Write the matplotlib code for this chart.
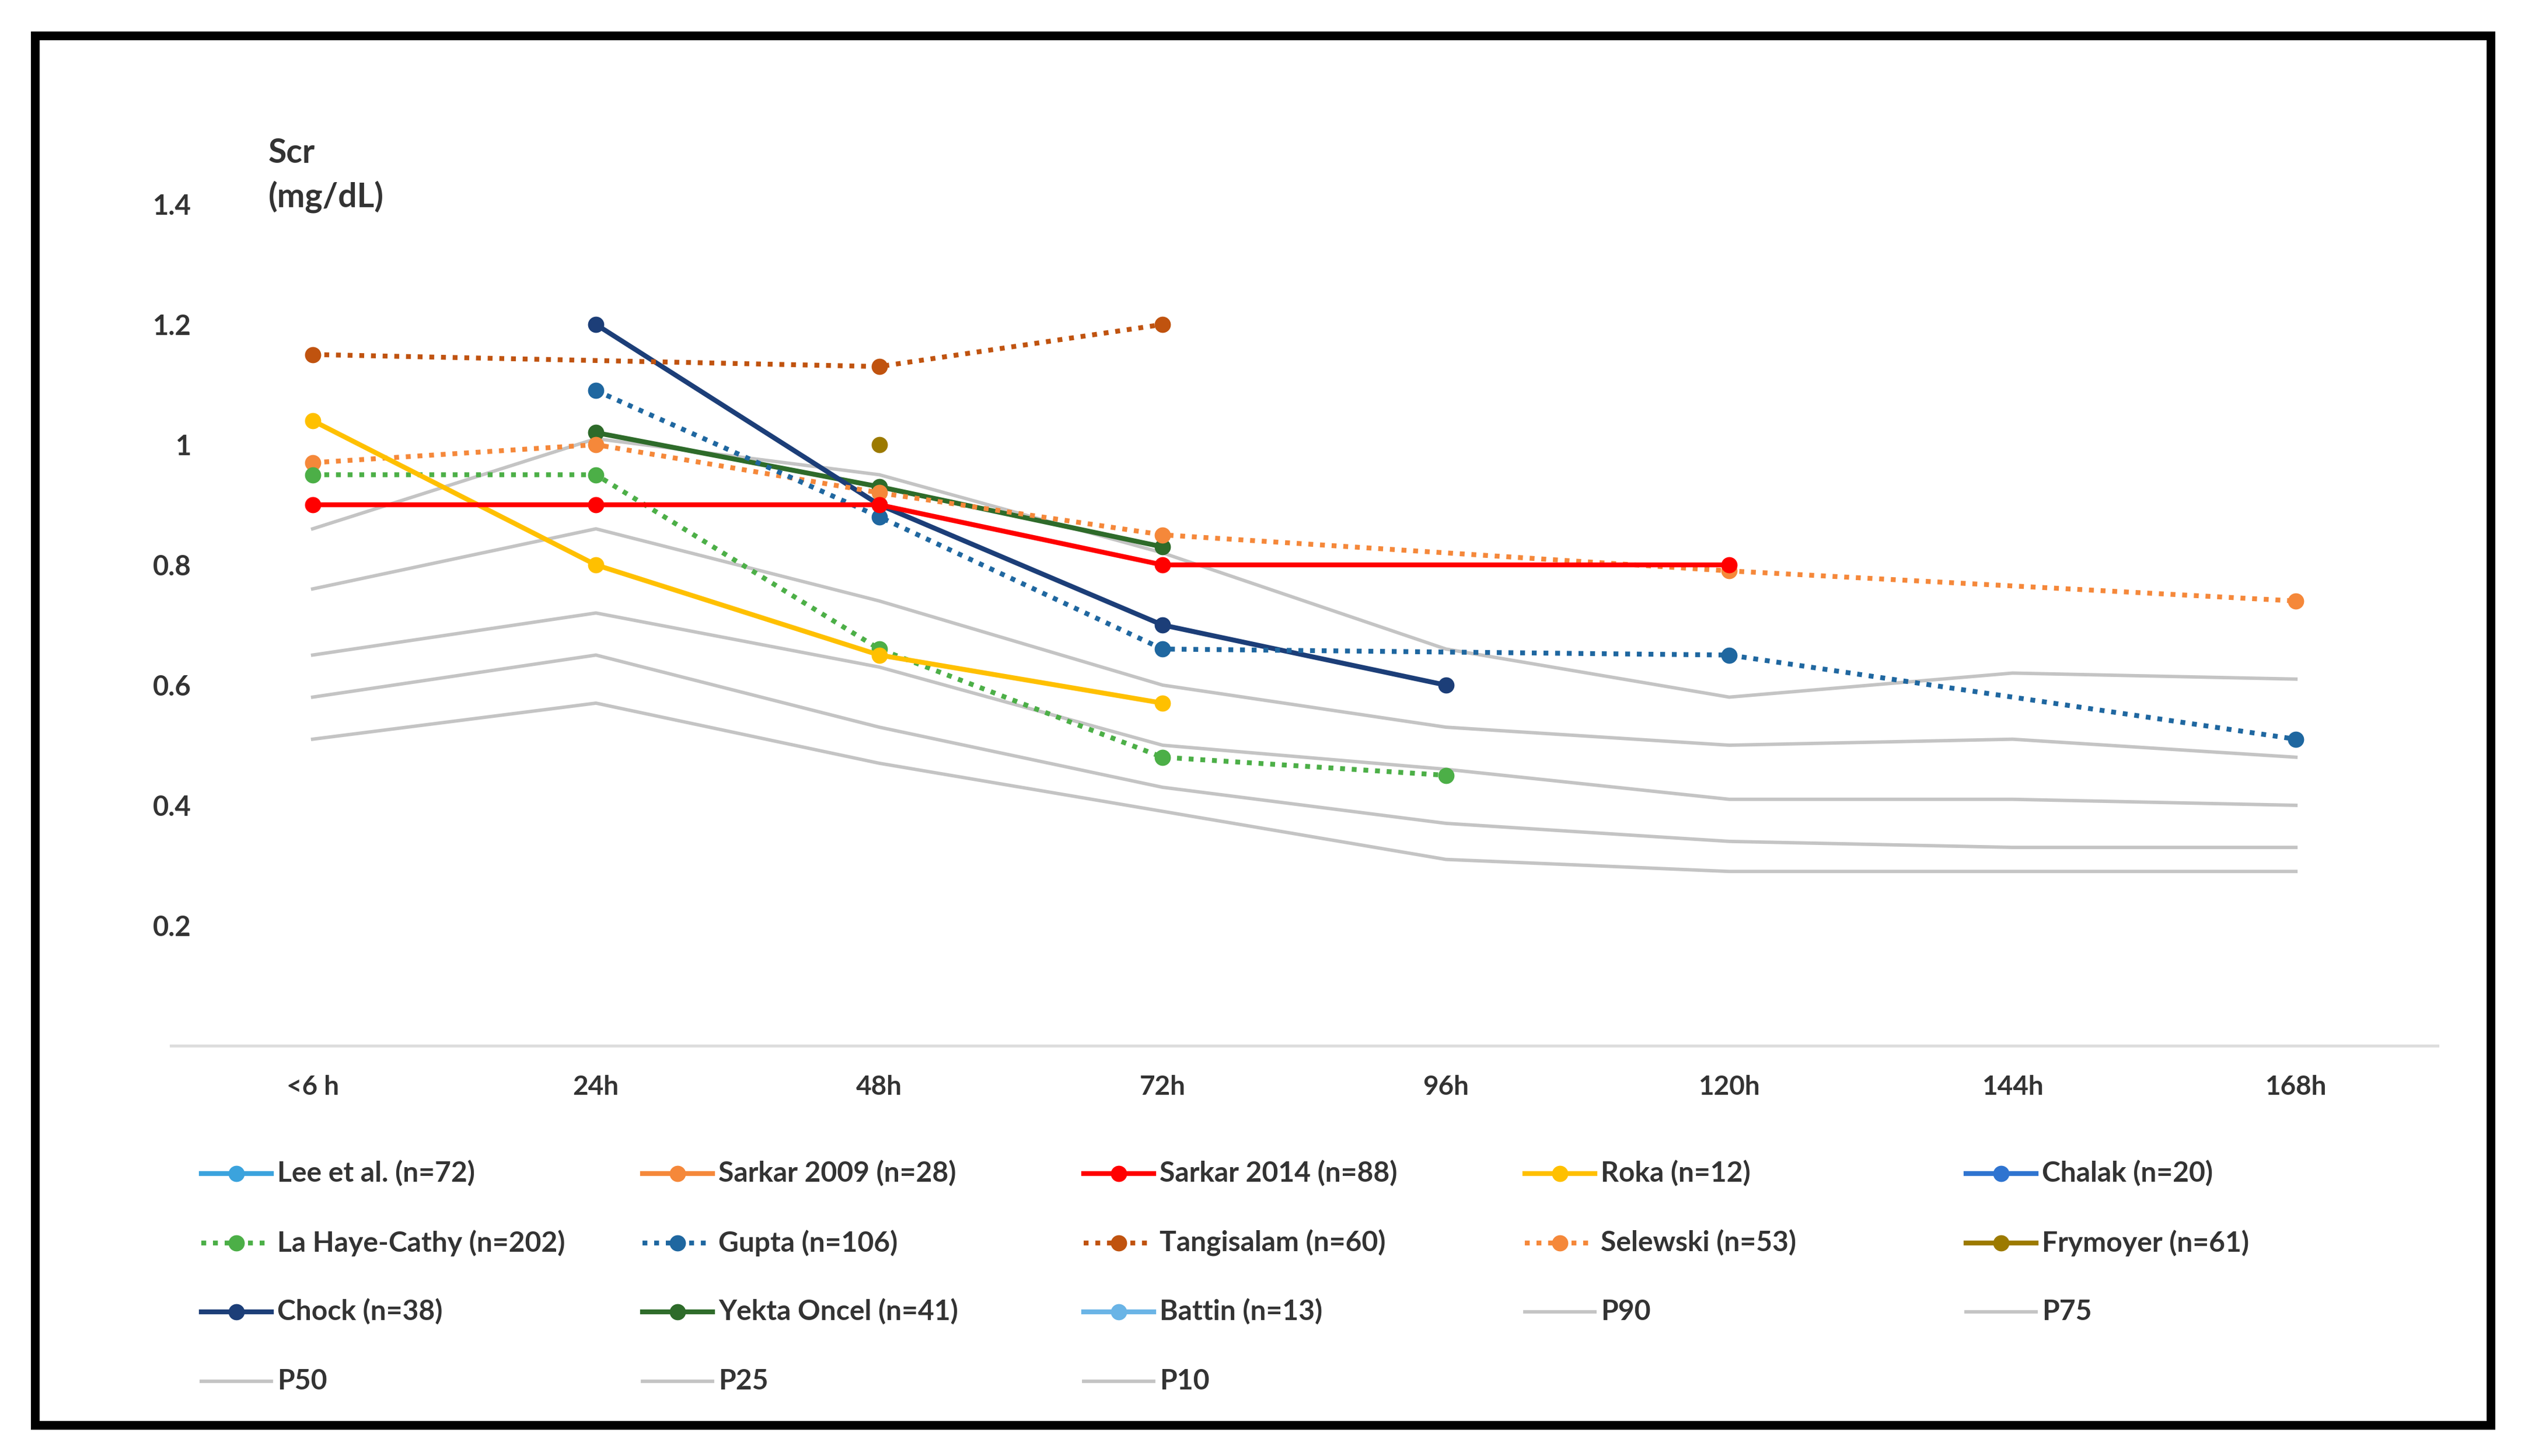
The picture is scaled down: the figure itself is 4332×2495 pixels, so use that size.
import matplotlib
matplotlib.use("Agg")  # no display
import matplotlib.pyplot as plt
from matplotlib.lines import Line2D
from matplotlib.patches import Rectangle

plt.rcParams["font.family"] = ["Lato", "DejaVu Sans"]

# --- data (Scr, mg/dL); None = no value at that time point ---
CATEGORIES = ["<6 h", "24h", "48h", "72h", "96h", "120h", "144h", "168h"]
Y_TICKS = [0.2, 0.4, 0.6, 0.8, 1.0, 1.2, 1.4]
Y_TICK_LABELS = ["0.2", "0.4", "0.6", "0.8", "1", "1.2", "1.4"]

LEE = [None, None, None, None, None, None, None, None]
SARKAR_2009 = [None, None, None, None, None, None, None, None]
SARKAR_2014 = [0.90, 0.90, 0.90, 0.80, None, 0.80, None, None]
ROKA = [1.04, 0.80, 0.65, 0.57, None, None, None, None]
CHALAK = [None, None, None, None, None, None, None, None]
LA_HAYE = [0.95, 0.95, 0.66, 0.48, 0.45, None, None, None]
GUPTA = [None, 1.09, 0.88, 0.66, None, 0.65, None, 0.51]
TANGISALAM = [1.15, None, 1.13, 1.20, None, None, None, None]
SELEWSKI = [0.97, 1.00, 0.92, 0.85, None, 0.79, None, 0.74]
FRYMOYER = [None, None, 1.00, None, None, None, None, None]
CHOCK = [None, 1.20, 0.90, 0.70, 0.60, None, None, None]
YEKTA = [None, 1.02, 0.93, 0.83, None, None, None, None]
BATTIN = [None, None, None, None, None, None, None, None]

P90 = [0.86, 1.01, 0.95, 0.82, 0.66, 0.58, 0.62, 0.61]
P75 = [0.76, 0.86, 0.74, 0.60, 0.53, 0.50, 0.51, 0.48]
P50 = [0.65, 0.72, 0.63, 0.50, 0.46, 0.41, 0.41, 0.40]
P25 = [0.58, 0.65, 0.53, 0.43, 0.37, 0.34, 0.33, 0.33]
P10 = [0.51, 0.57, 0.47, 0.39, 0.31, 0.29, 0.29, 0.29]

GRAY = "#C4C4C4"
DOT = (0, (1, 1.4))

# label, values, colour, linestyle, has marker
SERIES = [
    ("Lee et al. (n=72)", LEE, "#3BA3DD", "-", True),
    ("Sarkar 2009 (n=28)", SARKAR_2009, "#F5883A", "-", True),
    ("Sarkar 2014 (n=88)", SARKAR_2014, "#FF0000", "-", True),
    ("Roka (n=12)", ROKA, "#FFC000", "-", True),
    ("Chalak (n=20)", CHALAK, "#2F74D0", "-", True),
    ("La Haye-Cathy (n=202)", LA_HAYE, "#4CAF47", DOT, True),
    ("Gupta (n=106)", GUPTA, "#1F67A0", DOT, True),
    ("Tangisalam (n=60)", TANGISALAM, "#C0530F", DOT, True),
    ("Selewski (n=53)", SELEWSKI, "#F5883A", DOT, True),
    ("Frymoyer (n=61)", FRYMOYER, "#9C7A00", "-", True),
    ("Chock (n=38)", CHOCK, "#1C3E78", "-", True),
    ("Yekta Oncel (n=41)", YEKTA, "#2E6B2A", "-", True),
    ("Battin (n=13)", BATTIN, "#6AB4E6", "-", True),
    ("P90", P90, GRAY, "-", False),
    ("P75", P75, GRAY, "-", False),
    ("P50", P50, GRAY, "-", False),
    ("P25", P25, GRAY, "-", False),
    ("P10", P10, GRAY, "-", False),
]

W, H, DPI = 4332, 2495, 200
LW = 3.0
MS = 9
TXT = "#333333"


def fx(px):
    return px / W


def fy(py):
    return 1 - py / H


def _points(values):
    xs = [i for i, v in enumerate(values) if v is not None]
    ys = [v for v in values if v is not None]
    return xs, ys


fig = plt.figure(figsize=(W / DPI, H / DPI), dpi=DPI)
# plot area: x from 293 to 4177 px, y=0 at 1792 px, y=1.4 at 350 px
ax = fig.add_axes([fx(293), fy(1792), fx(4177 - 293), (1792 - 350) / H])

# percentiles underneath, studies on top
for label, values, color, ls, marker in SERIES[::-1]:
    xs, ys = _points(values)
    if not xs:
        continue
    if marker:
        ax.plot(xs, ys, color=color, linestyle=ls, linewidth=LW, marker="o",
                markersize=MS, dash_capstyle="butt", zorder=3)
    else:
        ax.plot(xs, ys, color=color, linestyle=ls, linewidth=2.1, zorder=2)

ax.set_xlim(-0.5, len(CATEGORIES) - 0.5)
ax.set_ylim(0, 1.4)
ax.set_xticks(range(len(CATEGORIES)))
ax.set_xticklabels(CATEGORIES, fontsize=16.5, fontweight="bold", color=TXT)
ax.set_yticks(Y_TICKS)
ax.set_yticklabels(Y_TICK_LABELS, fontsize=17, fontweight="bold", color=TXT)
ax.tick_params(axis="x", length=0, pad=18)
ax.tick_params(axis="y", length=0, pad=-12.6)
for side in ("top", "right", "left"):
    ax.spines[side].set_visible(False)
ax.spines["bottom"].set_color("#DDDDDD")
ax.spines["bottom"].set_linewidth(1.8)
ax.patch.set_alpha(0)

fig.text(fx(460), fy(236), "Scr\n(mg/dL)", fontsize=20.5, fontweight="bold",
         color=TXT, ha="left", va="top", linespacing=1.45)

# legend drawn by hand, Excel-style row-major grid
col_x = [345, 1101, 1857, 2613, 3369]
row_y = [2011, 2130, 2248, 2367]
handle_len = 120
for i, (label, values, color, ls, marker) in enumerate(SERIES):
    x0 = col_x[i % 5]
    y0 = row_y[i // 5]
    line = Line2D([fx(x0), fx(x0 + handle_len / 2), fx(x0 + handle_len)],
                  [fy(y0)] * 3, transform=fig.transFigure, color=color,
                  linestyle=ls, linewidth=LW if marker else 2.1,
                  marker="o" if marker else None, markevery=[1],
                  markersize=MS, dash_capstyle="butt")
    fig.add_artist(line)
    fig.text(fx(x0 + handle_len + 10), fy(y0), label, fontsize=17.3,
             fontweight="bold", color=TXT, ha="left", va="center")

# black frame round the whole chart
fig.add_artist(Rectangle((fx(60), fy(2442)), fx(4268 - 60), (2442 - 61) / H,
                         transform=fig.transFigure, fill=False,
                         edgecolor="black", linewidth=5.4))

fig.savefig("out.png", dpi=DPI)
plt.close(fig)
